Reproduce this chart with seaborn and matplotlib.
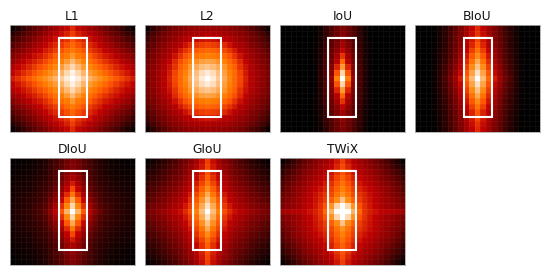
"""
Loss landscapes for seven box regression losses, drawn as seaborn heatmaps.
Each table is the upper left quarter of a panel (left edge to centre column,
top edge to centre row), the panels being symmetric about their centre.
"""

import numpy as np
import matplotlib
matplotlib.use("Agg")
import matplotlib.pyplot as plt
from matplotlib.patches import Rectangle
import seaborn as sns

l1 = [
    [.03, .08, .14, .19, .24, .29, .33, .38, .42, .47, .51, .58],
    [.10, .15, .20, .25, .29, .34, .39, .44, .48, .52, .56, .62],
    [.16, .21, .26, .30, .35, .40, .45, .49, .53, .57, .60, .66],
    [.22, .27, .31, .36, .41, .45, .50, .54, .58, .61, .65, .70],
    [.28, .33, .37, .42, .46, .50, .55, .58, .62, .66, .70, .74],
    [.34, .39, .43, .47, .52, .55, .59, .63, .68, .71, .74, .79],
    [.40, .44, .49, .53, .56, .60, .64, .68, .72, .75, .80, .86],
    [.46, .50, .53, .57, .61, .65, .69, .73, .76, .80, .86, .92],
    [.50, .54, .58, .62, .66, .70, .74, .77, .80, .85, .92, .97],
    [.55, .59, .63, .67, .71, .75, .78, .81, .85, .90, .96, 1.0],
]
l2 = [
    [.04, .12, .18, .23, .28, .32, .34, .36, .38, .39, .40, .41],
    [.11, .18, .24, .29, .33, .36, .38, .41, .43, .44, .45, .46],
    [.16, .22, .28, .32, .36, .39, .43, .46, .49, .51, .53, .54],
    [.20, .26, .31, .35, .40, .44, .48, .53, .58, .60, .62, .63],
    [.24, .30, .35, .39, .43, .48, .55, .60, .64, .67, .69, .70],
    [.27, .32, .37, .41, .46, .53, .60, .66, .70, .72, .74, .75],
    [.29, .34, .39, .44, .50, .58, .65, .70, .75, .78, .81, .82],
    [.31, .36, .41, .46, .53, .60, .68, .73, .79, .83, .87, .89],
    [.32, .37, .42, .47, .55, .63, .70, .75, .81, .87, .93, .96],
    [.32, .37, .42, .48, .56, .64, .70, .76, .83, .89, .96, 1.0],
]
iou = [
    [0, 0, 0, 0, 0, 0, .01, .05, .12, .20, .27, .33],
    [0, 0, 0, 0, 0, 0, .01, .05, .13, .21, .28, .35],
    [0, 0, 0, 0, 0, 0, .01, .06, .14, .22, .30, .38],
    [0, 0, 0, 0, 0, 0, .02, .06, .15, .24, .33, .43],
    [0, 0, 0, 0, 0, 0, .02, .07, .16, .26, .37, .50],
    [0, 0, 0, 0, 0, 0, .02, .08, .17, .28, .43, .60],
    [0, 0, 0, 0, 0, 0, .02, .08, .18, .30, .48, .70],
    [0, 0, 0, 0, 0, 0, .02, .09, .19, .33, .57, .80],
    [0, 0, 0, 0, 0, 0, .02, .09, .20, .36, .66, .92],
    [0, 0, 0, 0, 0, 0, .02, .09, .20, .40, .75, 1.0],
]
biou = [
    [0, 0, 0, .01, .05, .10, .17, .25, .33, .42, .50, .58],
    [0, 0, 0, .01, .05, .11, .18, .26, .34, .43, .52, .60],
    [0, 0, 0, .01, .06, .11, .19, .27, .35, .45, .54, .63],
    [0, 0, 0, .02, .06, .12, .20, .28, .37, .47, .57, .67],
    [0, 0, 0, .02, .07, .13, .21, .30, .39, .50, .62, .72],
    [0, 0, 0, .02, .08, .14, .22, .31, .42, .54, .67, .77],
    [0, 0, 0, .02, .08, .15, .24, .33, .45, .58, .72, .83],
    [0, 0, 0, .03, .09, .17, .26, .36, .48, .62, .77, .88],
    [0, 0, 0, .03, .10, .18, .28, .39, .51, .66, .82, .94],
    [0, 0, 0, .03, .10, .20, .30, .42, .55, .70, .86, 1.0],
]
diou = [
    [.01, .01, .02, .03, .04, .06, .09, .13, .18, .23, .29, .33],
    [.01, .02, .03, .04, .05, .07, .10, .14, .19, .24, .30, .35],
    [.02, .03, .04, .05, .06, .08, .11, .15, .20, .26, .33, .39],
    [.03, .04, .05, .06, .08, .10, .12, .16, .22, .29, .38, .46],
    [.04, .05, .06, .07, .09, .11, .14, .18, .24, .33, .44, .55],
    [.05, .06, .07, .08, .10, .13, .16, .20, .28, .38, .50, .64],
    [.05, .07, .08, .10, .12, .14, .18, .24, .32, .44, .58, .73],
    [.06, .08, .09, .11, .13, .16, .20, .28, .37, .51, .67, .83],
    [.07, .08, .10, .12, .15, .18, .23, .32, .43, .59, .76, .92],
    [.07, .09, .11, .13, .16, .20, .27, .36, .49, .67, .85, 1.0],
]
giou = [
    [.02, .05, .08, .12, .16, .20, .25, .30, .36, .43, .52, .62],
    [.05, .08, .11, .15, .19, .23, .28, .33, .39, .46, .54, .63],
    [.08, .11, .14, .18, .22, .26, .30, .35, .41, .48, .56, .65],
    [.11, .14, .17, .21, .25, .29, .33, .38, .44, .51, .59, .68],
    [.14, .17, .20, .24, .28, .32, .36, .41, .47, .55, .63, .72],
    [.17, .20, .24, .27, .31, .35, .39, .44, .50, .59, .68, .77],
    [.20, .23, .27, .30, .34, .38, .42, .47, .54, .63, .73, .83],
    [.23, .26, .30, .33, .37, .41, .45, .50, .58, .67, .78, .88],
    [.27, .30, .33, .36, .40, .44, .48, .54, .61, .71, .83, .94],
    [.30, .33, .37, .40, .44, .48, .52, .58, .65, .75, .87, 1.0],
]
twix = [
    [.03, .08, .14, .20, .25, .30, .34, .38, .42, .47, .54, .62],
    [.08, .13, .19, .24, .29, .33, .37, .41, .45, .50, .57, .64],
    [.13, .18, .23, .28, .33, .37, .41, .44, .48, .53, .60, .66],
    [.17, .22, .27, .32, .36, .40, .44, .47, .51, .56, .63, .69],
    [.21, .26, .31, .35, .39, .43, .47, .50, .54, .59, .66, .72],
    [.24, .29, .34, .38, .42, .46, .50, .53, .57, .62, .69, .75],
    [.27, .31, .35, .39, .44, .48, .52, .56, .60, .64, .72, .78],
    [.30, .34, .38, .41, .45, .49, .53, .57, .62, .68, .77, .88],
    [.33, .36, .39, .42, .46, .50, .54, .59, .66, .78, .92, 1.0],
    [.42, .44, .46, .48, .50, .53, .56, .60, .70, .84, 1.0, 1.0],
]

titles = ["L1", "L2", "IoU", "BIoU", "DIoU", "GIoU", "TWiX"]
quarters = [l1, l2, iou, biou, diou, giou, twix]


def mirror(quarter):
    top = np.array(quarter, dtype=float)
    top = np.hstack([top, top[:, -2::-1]])
    return np.vstack([top, top[-2::-1]])


sns.set_theme(style="white")
W, H = 550, 275
fig = plt.figure(figsize=(W / 100, H / 100), dpi=100)

lefts = [10, 145, 280, 415, 10, 145, 280]
tops = [25, 25, 25, 25, 158, 158, 158]

for name, quarter, left, top in zip(titles, quarters, lefts, tops):
    ax = fig.add_axes([left / W, 1 - (top + 107) / H, 125 / W, 107 / H])
    sns.heatmap(mirror(quarter), ax=ax, cmap="gist_heat", vmin=0, vmax=1, cbar=False,
                xticklabels=False, yticklabels=False,
                linewidths=0.5, linecolor=(1, 1, 1, 0.05))
    ax.set_title(name, fontsize=8.8, color="#111111", pad=3.5)
    for spine in ax.spines.values():
        spine.set_visible(True)
        spine.set_color("#aaaaaa")
        spine.set_linewidth(0.6)
    ax.add_patch(Rectangle((0.388, 0.14), 0.224, 0.74, transform=ax.transAxes,
                           fill=False, edgecolor="white", linewidth=1.5))

fig.savefig("out.png", dpi=100)
plt.close(fig)
